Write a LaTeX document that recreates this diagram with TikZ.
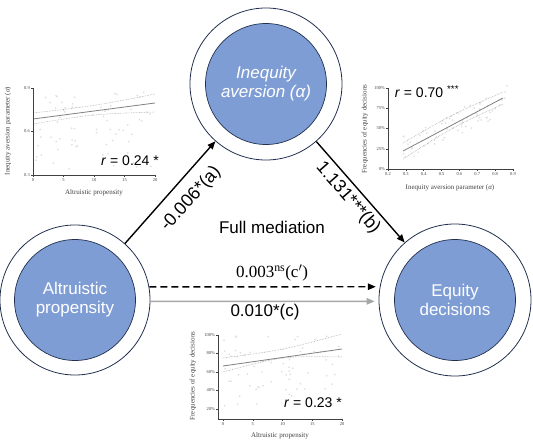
\documentclass[tikz,border=0pt]{standalone}
\usepackage{fontspec}
\setmainfont{Liberation Sans}
\newfontfamily\tnr{Liberation Serif}
\usetikzlibrary{arrows.meta}
\definecolor{navy}{HTML}{22304F}
\definecolor{cblue}{HTML}{7F9DD5}
\definecolor{dotc}{HTML}{E0E0E0}
\definecolor{regc}{HTML}{808080}
\definecolor{cic}{HTML}{A8A8A8}
\definecolor{axc}{HTML}{404040}
\definecolor{garr}{HTML}{A6A6A6}
\begin{document}
\begin{tikzpicture}[x=1pt,y=-1pt,
  outerc/.style={circle,draw=navy,line width=0.8pt,fill=white,inner sep=0pt},
  innerc/.style={circle,draw=navy,line width=0.7pt,fill=cblue,minimum size=121pt,inner sep=0pt,text=white,font=\fontsize{17}{19}\selectfont,align=center},
  arr/.style={line width=1.4pt,-{Triangle[length=8pt,width=6.5pt]}},
  lbl/.style={font=\fontsize{17}{19}\selectfont},
  axis/.style={draw=axc,line width=0.5pt},
  tick/.style={font=\tnr\fontsize{4.5}{5}\selectfont,text=axc,inner sep=1pt},
  axlbl/.style={font=\tnr\fontsize{7}{8}\selectfont,text=axc,inner sep=0pt},
  reg/.style={draw=regc,line width=0.8pt},
  ci/.style={draw=cic,line width=0.6pt,densely dotted},
  rlbl/.style={font=\fontsize{14}{16}\selectfont,inner sep=0pt}]
\useasboundingbox (0,0) rectangle (533,442);
\pgfmathsetseed{11}

% ---------- Plot 1 (top left)
\foreach \i in {1,...,70}{\pgfmathsetmacro\px{36+118*rnd}\pgfmathsetmacro\py{92+78*rnd}\fill[dotc] (\px,\py) circle (1pt);}
\draw[ci] (33,113) .. controls (94,106) .. (155,94);
\draw[ci] (33,124) .. controls (94,114) .. (155,112);
\draw[reg] (33,119) -- (155,103);
\draw[axis] (33,88) -- (33,175) -- (155,175);
\foreach \y/\t in {88/0.9,131.5/0.6,175/0.3}{\draw[axis] (31,\y) -- (33,\y); \node[tick,anchor=east] at (31,\y) {\t};}
\foreach \x/\t in {33/0,63.5/5,94/10,124.5/15,155/20}{\draw[axis] (\x,175) -- (\x,177); \node[tick,anchor=north] at (\x,177) {\t};}
\node[axlbl,rotate=90] (yl1) at (8,131) {Inequity aversion parameter ({\itshape α})};
\node[axlbl] (xl1) at (94,193) {Altruistic propensity};
\node[rlbl] (r1) at (130,161) {\textit{r} = 0.24 *};

% ---------- Plot 2 (top right)
\foreach \i in {1,...,70}{\pgfmathsetmacro\pu{rnd}\pgfmathsetmacro\px{402+106*\pu}\pgfmathsetmacro\py{151-53*\pu+28*(rnd-0.5)}\fill[dotc] (\px,\py) circle (1pt);}
\draw[ci] (403,143) .. controls (453,114) .. (503,92);
\draw[ci] (403,159) .. controls (453,127) .. (503,104);
\draw[reg] (403,151) -- (503,98);
\draw[axis] (388,88) -- (388,169) -- (513,169);
\foreach \y/\t in {88/100\%,108/75\%,128.5/50\%,149/25\%,169/0\%}{\draw[axis] (386,\y) -- (388,\y); \node[tick,anchor=east] at (386,\y) {\t};}
\foreach \k/\t in {0/0.2,1/0.3,2/0.4,3/0.5,4/0.6,5/0.7,6/0.8,7/0.9}{\draw[axis] ({388+17.86*\k},169) -- ({388+17.86*\k},171); \node[tick,anchor=north] at ({388+17.86*\k},171) {\t};}
\node[axlbl,rotate=90] (yl2) at (365,129) {Frequencies of equity decisions};
\node[axlbl] (xl2) at (450,188) {Inequity aversion parameter ({\itshape α})};
\node[rlbl] (r2) at (427,92) {\textit{r} = 0.70 \textsuperscript{***}};

% ---------- Plot 3 (bottom)
\foreach \i in {1,...,70}{\pgfmathsetmacro\px{224+116*rnd}\pgfmathsetmacro\py{336+70*rnd}\fill[dotc] (\px,\py) circle (1pt);}
\draw[ci] (223,358) .. controls (283,350) .. (342,334);
\draw[ci] (223,372) .. controls (283,356) .. (342,357);
\draw[reg] (223,366) -- (342,349);
\draw[axis] (218,335) -- (218,419) -- (342,419);
\foreach \y/\t in {335/100\%,353.5/80\%,372/60\%,390.5/40\%,409/20\%}{\draw[axis] (216,\y) -- (218,\y); \node[tick,anchor=east] at (216,\y) {\t};}
\foreach \x/\t in {223/0,252.75/5,282.5/10,312.25/15,342/20}{\draw[axis] (\x,419) -- (\x,421); \node[tick,anchor=north] at (\x,421) {\t};}
\node[axlbl,rotate=90] (yl3) at (193,376) {Frequencies of equity decisions};
\node[axlbl] (xl3) at (280,436) {Altruistic propensity};
\node[rlbl] (r3) at (313,403) {\textit{r} = 0.23 *};

% ---------- Circles
\node[outerc,minimum size=150pt] (Lo) at (75,300) {};
\node[innerc] (L) at (75,300) {Altruistic\\propensity};
\node[outerc,minimum size=152pt] (To) at (266,84) {};
\node[innerc,font=\fontsize{17}{19}\selectfont\itshape] (T) at (266,84) {Inequity\\aversion (α)};
\node[outerc,minimum size=152pt] (Ro) at (455,300) {};
\node[innerc] (R) at (455,300) {Equity\\decisions};

% ---------- Arrows
\draw[arr] (Lo) -- (To);
\draw[arr] (To) -- (Ro);
\draw[arr,dashed,dash pattern=on 7pt off 4pt] (Lo.10) -- ([xshift=-4pt]Ro.170);
\draw[arr,draw=garr,-{Triangle[length=8pt,width=6.5pt,fill=garr]}] (Lo.-1) -- ([xshift=-4pt]Ro.181);

% ---------- Labels
\node[lbl,font=\fontsize{18}{20}\selectfont,rotate=48] (la) at (191,199) {-0.006*(a)};
\node[lbl,font=\fontsize{18}{20}\selectfont,rotate=-49] (lb) at (348,198) {1.131***(b)};
\node[lbl] (fm) at (272,227) {Full mediation};
\node[lbl,font=\tnr\fontsize{17}{19}\selectfont] (lc1) at (272,273) {0.003\textsuperscript{ns}(c$'$)};
\node[lbl] (lc) at (265,312) {0.010*(c)};
\end{tikzpicture}
\end{document}
